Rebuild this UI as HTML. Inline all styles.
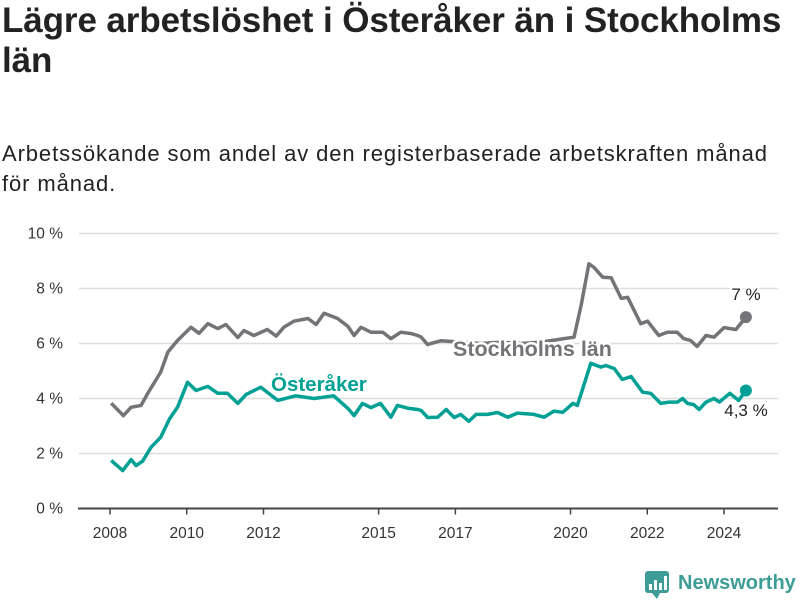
<!DOCTYPE html>
<html><head><meta charset="utf-8"><style>
body{margin:0;width:800px;height:600px;background:#fff;font-family:"Liberation Sans","DejaVu Sans",sans-serif;overflow:hidden;position:relative}
h1{position:absolute;left:2px;top:1px;margin:0;font-size:35px;line-height:40px;font-weight:bold;color:#222;width:795px;letter-spacing:-0.1px}
p{position:absolute;left:2px;top:139px;margin:0;font-size:22px;line-height:30px;color:#222;width:775px;letter-spacing:0.9px}
svg{position:absolute;left:0;top:0}
</style></head><body>
<h1>Lägre arbetslöshet i Österåker än i Stockholms län</h1>
<p>Arbetssökande som andel av den registerbaserade arbetskraften månad för månad.</p>
<svg id="chart" width="800" height="600"></svg>
<script>
const yTicks=[0,2,4,6,8,10];
const yTickLabels=["0 %","2 %","4 %","6 %","8 %","10 %"];
const xTicks=[2008,2010,2012,2015,2017,2020,2022,2024];
const xTickLabels=["2008","2010","2012","2015","2017","2020","2022","2024"];
const stockDates=[2008.03,2008.35,2008.55,2008.81,2008.98,2009.32,2009.51,2009.76,2010.11,2010.32,2010.55,2010.81,2011.02,2011.33,2011.49,2011.75,2012.10,2012.33,2012.53,2012.79,2013.16,2013.37,2013.58,2013.93,2014.20,2014.36,2014.54,2014.80,2015.11,2015.32,2015.58,2015.85,2016.02,2016.11,2016.28,2016.36,2016.62,2017.14,2017.67,2018.19,2018.71,2019.23,2019.83,2020.09,2020.28,2020.48,2020.61,2020.84,2021.06,2021.32,2021.49,2021.83,2022.01,2022.30,2022.52,2022.78,2022.95,2023.13,2023.30,2023.53,2023.74,2024.0,2024.31,2024.57];
const stockValues=[3.83,3.38,3.68,3.75,4.18,4.96,5.69,6.11,6.59,6.37,6.72,6.54,6.69,6.22,6.47,6.29,6.51,6.27,6.59,6.81,6.91,6.69,7.10,6.91,6.62,6.29,6.59,6.41,6.41,6.18,6.41,6.36,6.29,6.23,5.96,6.0,6.1,6.05,6.0,6.05,6.0,6.05,6.18,6.23,7.4,8.9,8.77,8.41,8.39,7.64,7.68,6.72,6.81,6.29,6.41,6.41,6.18,6.11,5.89,6.29,6.23,6.58,6.51,6.96];
const ostDates=[2008.03,2008.33,2008.55,2008.68,2008.85,2009.07,2009.32,2009.55,2009.76,2010.02,2010.24,2010.55,2010.81,2011.06,2011.33,2011.55,2011.93,2012.37,2012.84,2013.32,2013.83,2014.20,2014.36,2014.58,2014.80,2015.05,2015.32,2015.49,2015.79,2016.02,2016.11,2016.28,2016.54,2016.76,2016.97,2017.14,2017.35,2017.54,2017.84,2018.10,2018.36,2018.62,2019.05,2019.31,2019.57,2019.80,2020.06,2020.18,2020.53,2020.79,2020.92,2021.14,2021.35,2021.58,2021.88,2022.09,2022.35,2022.57,2022.79,2022.92,2023.05,2023.21,2023.35,2023.53,2023.74,2023.88,2024.15,2024.38,2024.57];
const ostValues=[1.75,1.38,1.78,1.56,1.72,2.23,2.59,3.26,3.68,4.59,4.29,4.44,4.19,4.19,3.82,4.15,4.41,3.93,4.1,4.0,4.1,3.64,3.38,3.82,3.67,3.82,3.32,3.75,3.64,3.6,3.56,3.31,3.32,3.6,3.31,3.42,3.17,3.42,3.42,3.49,3.32,3.47,3.42,3.32,3.54,3.5,3.82,3.75,5.28,5.14,5.2,5.09,4.69,4.8,4.23,4.19,3.82,3.87,3.87,4.0,3.82,3.78,3.6,3.87,4.0,3.87,4.19,3.93,4.29];

const NS='http://www.w3.org/2000/svg';
const svg=document.getElementById('chart');
const X=d=>110+(d-2008)*38.375;
const Y=v=>508.5-v*27.5;
function mk(tag,attrs,parent){const e=document.createElementNS(NS,tag);for(const k in attrs)e.setAttribute(k,attrs[k]);(parent||svg).appendChild(e);return e;}
yTicks.forEach((t,i)=>{
  if(t>0){const g=mk('line',{x1:79,x2:778,y1:Y(t),y2:Y(t),stroke:'#dedede','stroke-width':1.5});
  
  }
  const l=mk('text',{x:63,y:Y(t)+5,'text-anchor':'end','font-size':15.5,fill:'#333'});
  l.textContent=yTickLabels[i];
  
  
});
const ax=mk('line',{x1:78,x2:778,y1:Y(0),y2:Y(0),stroke:'#444','stroke-width':2});


xTicks.forEach((t,i)=>{
  const tk=mk('line',{x1:X(t),x2:X(t),y1:Y(0),y2:Y(0)+6,stroke:'#444','stroke-width':1.5});
  
  
  const l=mk('text',{x:X(t),y:538,'text-anchor':'middle','font-size':15.5,fill:'#333'});
  l.textContent=xTickLabels[i];
  
  
});
function series(dates,vals,color,name){
  const p=mk('path',{d:dates.map((d,i)=>(i?'L':'M')+X(d).toFixed(1)+','+Y(vals[i]).toFixed(1)).join(''),fill:'none',stroke:color,'stroke-width':3.5,'stroke-linejoin':'round'});
  
  
  const n=dates.length-1;
  const c=mk('circle',{cx:X(dates[n]),cy:Y(vals[n]),r:6,fill:color});
  
  
}
series(stockDates,stockValues,'#747378','stockholm');
series(ostDates,ostValues,'#00a194','osteraker');
function lab(txt,x,y,color,size,bold,name,anchor){
  const t=mk('text',{x:x,y:y,fill:color,'font-size':size,'font-weight':bold?'bold':'normal','text-anchor':anchor||'start',stroke:'#fff','stroke-width':bold?5:4,'paint-order':'stroke','stroke-linejoin':'round'});
  t.textContent=txt;
  
  
}
lab('Stockholms län',453,356,'#747378',21.5,true,'stockholm-label');
lab('Österåker',271,391,'#00a194',20.5,true,'osteraker-label');
lab('7 %',746,300,'#222',17,false,'stockholm-end-value','middle');
lab('4,3 %',746,416,'#222',17,false,'osteraker-end-value','middle');
const lg=mk('g',{});


mk('rect',{x:645,y:571,width:24,height:22,rx:3,fill:'#3d9d96'},lg);
mk('path',{d:'M652,593 L657,599 L660,593 Z',fill:'#3d9d96'},lg);
[[649,584,3,6],[654,580,3,10],[659,583,3,7],[664,576,3,14]].forEach(r=>mk('rect',{x:r[0],y:r[1],width:r[2],height:r[3],fill:'#fff'},lg));
const lt=mk('text',{x:678,y:589,'font-size':20,'font-weight':'bold',fill:'#3d9d96'},lg);
lt.textContent='Newsworthy';
</script>
</body></html>
